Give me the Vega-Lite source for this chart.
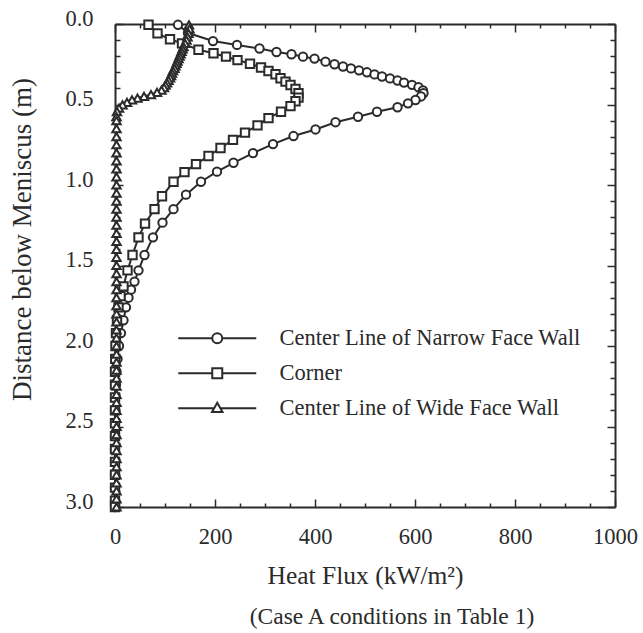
{
  "$schema": "https://vega.github.io/schema/vega-lite/v6.json",
  "width": 500,
  "height": 483,
  "autosize": {"type": "none"},
  "padding": {"left": 115, "top": 24, "right": 28, "bottom": 126},
  "background": "white",
  "config": {
    "view": {"stroke": null},
    "font": "Liberation Serif",
    "axis": {
      "grid": false,
      "domainColor": "#2b2b2b",
      "domainWidth": 2,
      "tickColor": "#2b2b2b",
      "tickWidth": 1.5,
      "labelFont": "Liberation Serif",
      "labelFontSize": 22.5,
      "labelColor": "#2b2b2b",
      "labelOverlap": false,
      "labelFlush": false,
      "titleFont": "Liberation Serif",
      "titleFontWeight": "normal",
      "titleColor": "#2b2b2b"
    },
    "legend": {"labelFont": "Liberation Serif"}
  },
  "title": {
    "text": "(Case A conditions in Table 1)",
    "orient": "bottom",
    "anchor": "middle",
    "frame": "group",
    "dx": 27,
    "offset": 16,
    "font": "Liberation Serif",
    "fontSize": 23.5,
    "fontWeight": "normal",
    "color": "#2b2b2b"
  },
  "data": {
    "values": [
      {"s": "Center Line of Narrow Face Wall", "d": 0.005, "q": 126},
      {"s": "Center Line of Narrow Face Wall", "d": 0.056, "q": 146},
      {"s": "Center Line of Narrow Face Wall", "d": 0.106, "q": 196},
      {"s": "Center Line of Narrow Face Wall", "d": 0.13, "q": 244},
      {"s": "Center Line of Narrow Face Wall", "d": 0.152, "q": 289},
      {"s": "Center Line of Narrow Face Wall", "d": 0.174, "q": 323},
      {"s": "Center Line of Narrow Face Wall", "d": 0.188, "q": 353},
      {"s": "Center Line of Narrow Face Wall", "d": 0.203, "q": 376},
      {"s": "Center Line of Narrow Face Wall", "d": 0.215, "q": 399},
      {"s": "Center Line of Narrow Face Wall", "d": 0.234, "q": 421},
      {"s": "Center Line of Narrow Face Wall", "d": 0.25, "q": 439},
      {"s": "Center Line of Narrow Face Wall", "d": 0.264, "q": 456},
      {"s": "Center Line of Narrow Face Wall", "d": 0.276, "q": 472},
      {"s": "Center Line of Narrow Face Wall", "d": 0.288, "q": 488},
      {"s": "Center Line of Narrow Face Wall", "d": 0.3, "q": 504},
      {"s": "Center Line of Narrow Face Wall", "d": 0.313, "q": 519},
      {"s": "Center Line of Narrow Face Wall", "d": 0.326, "q": 534},
      {"s": "Center Line of Narrow Face Wall", "d": 0.338, "q": 550},
      {"s": "Center Line of Narrow Face Wall", "d": 0.351, "q": 565},
      {"s": "Center Line of Narrow Face Wall", "d": 0.364, "q": 578},
      {"s": "Center Line of Narrow Face Wall", "d": 0.378, "q": 594},
      {"s": "Center Line of Narrow Face Wall", "d": 0.393, "q": 607},
      {"s": "Center Line of Narrow Face Wall", "d": 0.412, "q": 616},
      {"s": "Center Line of Narrow Face Wall", "d": 0.43, "q": 617},
      {"s": "Center Line of Narrow Face Wall", "d": 0.45, "q": 612},
      {"s": "Center Line of Narrow Face Wall", "d": 0.472, "q": 601},
      {"s": "Center Line of Narrow Face Wall", "d": 0.493, "q": 586},
      {"s": "Center Line of Narrow Face Wall", "d": 0.517, "q": 565},
      {"s": "Center Line of Narrow Face Wall", "d": 0.545, "q": 524},
      {"s": "Center Line of Narrow Face Wall", "d": 0.576, "q": 486},
      {"s": "Center Line of Narrow Face Wall", "d": 0.61, "q": 441},
      {"s": "Center Line of Narrow Face Wall", "d": 0.655, "q": 401},
      {"s": "Center Line of Narrow Face Wall", "d": 0.696, "q": 357},
      {"s": "Center Line of Narrow Face Wall", "d": 0.746, "q": 316},
      {"s": "Center Line of Narrow Face Wall", "d": 0.802, "q": 276},
      {"s": "Center Line of Narrow Face Wall", "d": 0.862, "q": 237},
      {"s": "Center Line of Narrow Face Wall", "d": 0.917, "q": 204},
      {"s": "Center Line of Narrow Face Wall", "d": 0.98, "q": 172},
      {"s": "Center Line of Narrow Face Wall", "d": 1.06, "q": 142},
      {"s": "Center Line of Narrow Face Wall", "d": 1.15, "q": 117},
      {"s": "Center Line of Narrow Face Wall", "d": 1.234, "q": 95},
      {"s": "Center Line of Narrow Face Wall", "d": 1.325, "q": 76},
      {"s": "Center Line of Narrow Face Wall", "d": 1.435, "q": 59},
      {"s": "Center Line of Narrow Face Wall", "d": 1.53, "q": 47},
      {"s": "Center Line of Narrow Face Wall", "d": 1.6, "q": 39},
      {"s": "Center Line of Narrow Face Wall", "d": 1.65, "q": 32},
      {"s": "Center Line of Narrow Face Wall", "d": 1.7, "q": 27},
      {"s": "Center Line of Narrow Face Wall", "d": 1.76, "q": 22},
      {"s": "Center Line of Narrow Face Wall", "d": 1.84, "q": 17},
      {"s": "Center Line of Narrow Face Wall", "d": 1.92, "q": 12},
      {"s": "Center Line of Narrow Face Wall", "d": 2.0, "q": 8},
      {"s": "Center Line of Narrow Face Wall", "d": 2.08, "q": 5},
      {"s": "Center Line of Narrow Face Wall", "d": 2.16, "q": 3},
      {"s": "Center Line of Narrow Face Wall", "d": 2.24, "q": 2},
      {"s": "Center Line of Narrow Face Wall", "d": 2.32, "q": 1},
      {"s": "Center Line of Narrow Face Wall", "d": 2.4, "q": 0.5},
      {"s": "Center Line of Narrow Face Wall", "d": 2.48, "q": 0},
      {"s": "Center Line of Narrow Face Wall", "d": 2.56, "q": 0},
      {"s": "Center Line of Narrow Face Wall", "d": 2.64, "q": 0},
      {"s": "Center Line of Narrow Face Wall", "d": 2.72, "q": 0},
      {"s": "Center Line of Narrow Face Wall", "d": 2.8, "q": 0},
      {"s": "Center Line of Narrow Face Wall", "d": 2.88, "q": 0},
      {"s": "Center Line of Narrow Face Wall", "d": 2.96, "q": 0},
      {"s": "Center Line of Narrow Face Wall", "d": 3.0, "q": 0},

      {"s": "Corner", "d": 0.005, "q": 67},
      {"s": "Corner", "d": 0.058, "q": 85},
      {"s": "Corner", "d": 0.095, "q": 110},
      {"s": "Corner", "d": 0.12, "q": 134},
      {"s": "Corner", "d": 0.16, "q": 167},
      {"s": "Corner", "d": 0.182, "q": 197},
      {"s": "Corner", "d": 0.203, "q": 222},
      {"s": "Corner", "d": 0.224, "q": 245},
      {"s": "Corner", "d": 0.247, "q": 270},
      {"s": "Corner", "d": 0.27, "q": 292},
      {"s": "Corner", "d": 0.292, "q": 307},
      {"s": "Corner", "d": 0.312, "q": 321},
      {"s": "Corner", "d": 0.337, "q": 331},
      {"s": "Corner", "d": 0.358, "q": 341},
      {"s": "Corner", "d": 0.379, "q": 351},
      {"s": "Corner", "d": 0.404, "q": 361},
      {"s": "Corner", "d": 0.43, "q": 367},
      {"s": "Corner", "d": 0.457, "q": 367},
      {"s": "Corner", "d": 0.48, "q": 361},
      {"s": "Corner", "d": 0.51, "q": 351},
      {"s": "Corner", "d": 0.545, "q": 332},
      {"s": "Corner", "d": 0.585, "q": 307},
      {"s": "Corner", "d": 0.63, "q": 285},
      {"s": "Corner", "d": 0.675, "q": 260},
      {"s": "Corner", "d": 0.72, "q": 236},
      {"s": "Corner", "d": 0.77, "q": 211},
      {"s": "Corner", "d": 0.82, "q": 187},
      {"s": "Corner", "d": 0.87, "q": 162},
      {"s": "Corner", "d": 0.92, "q": 139},
      {"s": "Corner", "d": 0.98, "q": 117},
      {"s": "Corner", "d": 1.07, "q": 94},
      {"s": "Corner", "d": 1.15, "q": 79},
      {"s": "Corner", "d": 1.24, "q": 60},
      {"s": "Corner", "d": 1.325, "q": 47},
      {"s": "Corner", "d": 1.435, "q": 35},
      {"s": "Corner", "d": 1.53, "q": 25},
      {"s": "Corner", "d": 1.63, "q": 17},
      {"s": "Corner", "d": 1.69, "q": 11},
      {"s": "Corner", "d": 1.76, "q": 7},
      {"s": "Corner", "d": 1.84, "q": 4},
      {"s": "Corner", "d": 1.92, "q": 2},
      {"s": "Corner", "d": 2.0, "q": 1},
      {"s": "Corner", "d": 2.08, "q": 0.5},
      {"s": "Corner", "d": 2.16, "q": 0},
      {"s": "Corner", "d": 2.24, "q": 0},
      {"s": "Corner", "d": 2.32, "q": 0},
      {"s": "Corner", "d": 2.4, "q": 0},
      {"s": "Corner", "d": 2.48, "q": 0},
      {"s": "Corner", "d": 2.56, "q": 0},
      {"s": "Corner", "d": 2.64, "q": 0},
      {"s": "Corner", "d": 2.72, "q": 0},
      {"s": "Corner", "d": 2.8, "q": 0},
      {"s": "Corner", "d": 2.88, "q": 0},
      {"s": "Corner", "d": 2.96, "q": 0},
      {"s": "Corner", "d": 3.0, "q": 0},

      {"s": "Center Line of Wide Face Wall", "d": 0.005, "q": 148},
      {"s": "Center Line of Wide Face Wall", "d": 0.03, "q": 149},
      {"s": "Center Line of Wide Face Wall", "d": 0.058, "q": 147},
      {"s": "Center Line of Wide Face Wall", "d": 0.08, "q": 145},
      {"s": "Center Line of Wide Face Wall", "d": 0.1, "q": 143},
      {"s": "Center Line of Wide Face Wall", "d": 0.12, "q": 140},
      {"s": "Center Line of Wide Face Wall", "d": 0.14, "q": 137},
      {"s": "Center Line of Wide Face Wall", "d": 0.155, "q": 135},
      {"s": "Center Line of Wide Face Wall", "d": 0.17, "q": 133},
      {"s": "Center Line of Wide Face Wall", "d": 0.185, "q": 131},
      {"s": "Center Line of Wide Face Wall", "d": 0.2, "q": 129},
      {"s": "Center Line of Wide Face Wall", "d": 0.215, "q": 127},
      {"s": "Center Line of Wide Face Wall", "d": 0.23, "q": 125},
      {"s": "Center Line of Wide Face Wall", "d": 0.245, "q": 123},
      {"s": "Center Line of Wide Face Wall", "d": 0.26, "q": 121},
      {"s": "Center Line of Wide Face Wall", "d": 0.275, "q": 119},
      {"s": "Center Line of Wide Face Wall", "d": 0.29, "q": 116},
      {"s": "Center Line of Wide Face Wall", "d": 0.305, "q": 114},
      {"s": "Center Line of Wide Face Wall", "d": 0.32, "q": 112},
      {"s": "Center Line of Wide Face Wall", "d": 0.335, "q": 110},
      {"s": "Center Line of Wide Face Wall", "d": 0.35, "q": 107},
      {"s": "Center Line of Wide Face Wall", "d": 0.365, "q": 104},
      {"s": "Center Line of Wide Face Wall", "d": 0.38, "q": 101},
      {"s": "Center Line of Wide Face Wall", "d": 0.395, "q": 98},
      {"s": "Center Line of Wide Face Wall", "d": 0.41, "q": 93},
      {"s": "Center Line of Wide Face Wall", "d": 0.425, "q": 84},
      {"s": "Center Line of Wide Face Wall", "d": 0.438, "q": 72},
      {"s": "Center Line of Wide Face Wall", "d": 0.45, "q": 58},
      {"s": "Center Line of Wide Face Wall", "d": 0.46, "q": 45},
      {"s": "Center Line of Wide Face Wall", "d": 0.472, "q": 34},
      {"s": "Center Line of Wide Face Wall", "d": 0.487, "q": 24},
      {"s": "Center Line of Wide Face Wall", "d": 0.503, "q": 15},
      {"s": "Center Line of Wide Face Wall", "d": 0.522, "q": 8},
      {"s": "Center Line of Wide Face Wall", "d": 0.545, "q": 4},
      {"s": "Center Line of Wide Face Wall", "d": 0.575, "q": 3},
      {"s": "Center Line of Wide Face Wall", "d": 0.6, "q": 3},
      {"s": "Center Line of Wide Face Wall", "d": 0.65, "q": 3},
      {"s": "Center Line of Wide Face Wall", "d": 0.7, "q": 3},
      {"s": "Center Line of Wide Face Wall", "d": 0.75, "q": 3},
      {"s": "Center Line of Wide Face Wall", "d": 0.8, "q": 3},
      {"s": "Center Line of Wide Face Wall", "d": 0.85, "q": 3},
      {"s": "Center Line of Wide Face Wall", "d": 0.9, "q": 3},
      {"s": "Center Line of Wide Face Wall", "d": 0.95, "q": 3},
      {"s": "Center Line of Wide Face Wall", "d": 1.0, "q": 3},
      {"s": "Center Line of Wide Face Wall", "d": 1.05, "q": 3},
      {"s": "Center Line of Wide Face Wall", "d": 1.1, "q": 3},
      {"s": "Center Line of Wide Face Wall", "d": 1.15, "q": 3},
      {"s": "Center Line of Wide Face Wall", "d": 1.2, "q": 3},
      {"s": "Center Line of Wide Face Wall", "d": 1.25, "q": 3},
      {"s": "Center Line of Wide Face Wall", "d": 1.3, "q": 3},
      {"s": "Center Line of Wide Face Wall", "d": 1.35, "q": 3},
      {"s": "Center Line of Wide Face Wall", "d": 1.4, "q": 3},
      {"s": "Center Line of Wide Face Wall", "d": 1.45, "q": 3},
      {"s": "Center Line of Wide Face Wall", "d": 1.5, "q": 3},
      {"s": "Center Line of Wide Face Wall", "d": 1.55, "q": 3},
      {"s": "Center Line of Wide Face Wall", "d": 1.6, "q": 3},
      {"s": "Center Line of Wide Face Wall", "d": 1.65, "q": 3},
      {"s": "Center Line of Wide Face Wall", "d": 1.7, "q": 3},
      {"s": "Center Line of Wide Face Wall", "d": 1.75, "q": 3},
      {"s": "Center Line of Wide Face Wall", "d": 1.8, "q": 3},
      {"s": "Center Line of Wide Face Wall", "d": 1.85, "q": 3},
      {"s": "Center Line of Wide Face Wall", "d": 1.9, "q": 3},
      {"s": "Center Line of Wide Face Wall", "d": 1.95, "q": 3},
      {"s": "Center Line of Wide Face Wall", "d": 2.0, "q": 3},
      {"s": "Center Line of Wide Face Wall", "d": 2.05, "q": 3},
      {"s": "Center Line of Wide Face Wall", "d": 2.1, "q": 3},
      {"s": "Center Line of Wide Face Wall", "d": 2.15, "q": 3},
      {"s": "Center Line of Wide Face Wall", "d": 2.2, "q": 3},
      {"s": "Center Line of Wide Face Wall", "d": 2.25, "q": 3},
      {"s": "Center Line of Wide Face Wall", "d": 2.3, "q": 3},
      {"s": "Center Line of Wide Face Wall", "d": 2.35, "q": 3},
      {"s": "Center Line of Wide Face Wall", "d": 2.4, "q": 3},
      {"s": "Center Line of Wide Face Wall", "d": 2.45, "q": 3},
      {"s": "Center Line of Wide Face Wall", "d": 2.5, "q": 3},
      {"s": "Center Line of Wide Face Wall", "d": 2.55, "q": 3},
      {"s": "Center Line of Wide Face Wall", "d": 2.6, "q": 3},
      {"s": "Center Line of Wide Face Wall", "d": 2.65, "q": 3},
      {"s": "Center Line of Wide Face Wall", "d": 2.7, "q": 3},
      {"s": "Center Line of Wide Face Wall", "d": 2.75, "q": 3},
      {"s": "Center Line of Wide Face Wall", "d": 2.8, "q": 3},
      {"s": "Center Line of Wide Face Wall", "d": 2.85, "q": 3},
      {"s": "Center Line of Wide Face Wall", "d": 2.9, "q": 3},
      {"s": "Center Line of Wide Face Wall", "d": 2.95, "q": 3},
      {"s": "Center Line of Wide Face Wall", "d": 3.0, "q": 3}
    ]
  },
  "layer": [
    {
      "mark": {"type": "line", "strokeWidth": 2, "clip": false},
      "encoding": {
        "x": {
          "field": "q",
          "type": "quantitative",
          "scale": {"domain": [0, 1000], "nice": false, "zero": false},
          "axis": {
            "orient": "bottom",
            "values": [0, 50, 100, 150, 200, 250, 300, 350, 400, 450, 500, 550, 600, 650, 700, 750, 800, 850, 900, 950, 1000],
            "labelExpr": "datum.value % 200 === 0 ? '' + datum.value : ''",
            "labelFont": "Liberation Serif",
            "tickSize": {"condition": {"test": "datum.value % 200 === 0", "value": -8}, "value": -4},
            "labelPadding": 26,
            "title": "Heat Flux (kW/m²)",
            "titleFontSize": 25.5,
            "titlePadding": 12
          }
        },
        "y": {
          "field": "d",
          "type": "quantitative",
          "scale": {"domain": [0, 3], "nice": false, "zero": false, "reverse": true},
          "axis": {
            "orient": "left",
            "values": [0, 0.1, 0.2, 0.3, 0.4, 0.5, 0.6, 0.7, 0.8, 0.9, 1.0, 1.1, 1.2, 1.3, 1.4, 1.5, 1.6, 1.7, 1.8, 1.9, 2.0, 2.1, 2.2, 2.3, 2.4, 2.5, 2.6, 2.7, 2.8, 2.9, 3.0],
            "labelExpr": "abs(datum.value * 2 - round(datum.value * 2)) < 0.001 ? format(datum.value, '.1f') : ''",
            "labelFont": "Liberation Serif",
            "tickSize": {"condition": {"test": "abs(datum.value * 2 - round(datum.value * 2)) < 0.001", "value": -8}, "value": -5},
            "labelPadding": 30,
            "labelOffset": -6,
            "title": "Distance below Meniscus (m)",
            "titleFontSize": 27,
            "titleAngle": 270,
            "titleBaseline": "middle",
            "titleAlign": "center",
            "titleX": -93,
            "titleY": 215
          }
        },
        "order": {"field": "d", "type": "quantitative"},
        "color": {
          "field": "s",
          "type": "nominal",
          "scale": {
            "domain": ["Center Line of Narrow Face Wall", "Corner", "Center Line of Wide Face Wall"],
            "range": ["#2b2b2b", "#2b2b2b", "#2b2b2b"]
          },
          "legend": {
            "orient": "none",
            "legendX": 91,
            "legendY": 303,
            "title": null,
            "labelFont": "Liberation Serif",
            "labelFontSize": 22.5,
            "labelColor": "#2b2b2b",
            "labelLimit": 400,
            "labelOffset": 51,
            "rowPadding": 12,
            "symbolSize": 100,
            "padding": 0,
            "encode": {
              "symbols": {
                "update": {
                  "shape": {"signal": "datum.value === 'Corner' ? 'M-7.8,0H-1M1,0H7.8M-1,-1H1V1H-1Z' : datum.value === 'Center Line of Wide Face Wall' ? 'M-7.8,0H-0.6M0.6,0H7.8M0,-1.1L1.05,0.75H-1.05Z' : 'M-7.8,0H-1M1,0H7.8M-1,0A1,1 0 1,0 1,0A1,1 0 1,0 -1,0'"},
                  "size": {"value": 100},
                  "fill": {"value": "white"},
                  "fillOpacity": {"value": 1},
                  "stroke": {"value": "#2b2b2b"},
                  "strokeWidth": {"value": 2},
                  "opacity": {"value": 1}
                }
              }
            }
          }
        }
      }
    },
    {
      "mark": {"type": "point", "filled": true, "fill": "white", "stroke": "#2b2b2b", "strokeWidth": 2, "size": 70, "opacity": 1, "clip": false},
      "encoding": {
        "x": {
          "field": "q",
          "type": "quantitative",
          "scale": {"domain": [0, 1000], "nice": false, "zero": false},
          "axis": {
            "orient": "top",
            "values": [0, 50, 100, 150, 200, 250, 300, 350, 400, 450, 500, 550, 600, 650, 700, 750, 800, 850, 900, 950, 1000],
            "labels": false,
            "tickSize": {"condition": {"test": "datum.value % 200 === 0", "value": -8}, "value": -4},
            "title": null
          }
        },
        "y": {
          "field": "d",
          "type": "quantitative",
          "scale": {"domain": [0, 3], "nice": false, "zero": false, "reverse": true},
          "axis": {
            "orient": "right",
            "values": [0, 0.1, 0.2, 0.3, 0.4, 0.5, 0.6, 0.7, 0.8, 0.9, 1.0, 1.1, 1.2, 1.3, 1.4, 1.5, 1.6, 1.7, 1.8, 1.9, 2.0, 2.1, 2.2, 2.3, 2.4, 2.5, 2.6, 2.7, 2.8, 2.9, 3.0],
            "labels": false,
            "tickSize": {"condition": {"test": "abs(datum.value * 2 - round(datum.value * 2)) < 0.001", "value": -8}, "value": -5},
            "title": null
          }
        },
        "shape": {
          "field": "s",
          "type": "nominal",
          "scale": {
            "domain": ["Center Line of Narrow Face Wall", "Corner", "Center Line of Wide Face Wall"],
            "range": ["circle", "square", "triangle-up"]
          },
          "legend": null
        }
      }
    }
  ],
  "resolve": {
    "axis": {"x": "independent", "y": "independent"},
    "scale": {"shape": "independent"},
    "legend": {"shape": "independent", "color": "independent"}
  }
}
